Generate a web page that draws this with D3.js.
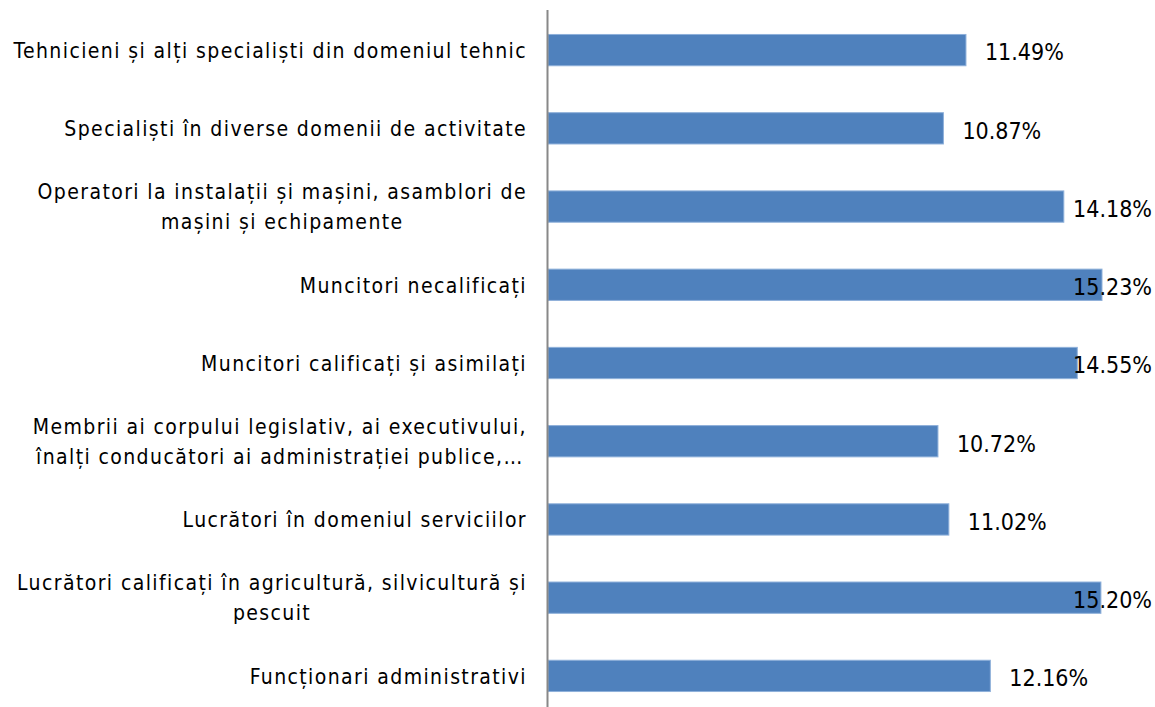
<!DOCTYPE html>
<html>
<head>
<meta charset="utf-8">
<script src="https://cdnjs.cloudflare.com/ajax/libs/d3/7.8.5/d3.min.js"></script>
<style>
  body { margin: 0; background: #fff; }
  .chart text { font-family: "DejaVu Sans Condensed", "DejaVu Sans", sans-serif; fill: #000; }
</style>
</head>
<body>
<svg class="chart"></svg>
<script>
var categories = [
  ["Tehnicieni și alți specialiști din domeniul tehnic"],
  ["Specialiști în diverse domenii de activitate"],
  ["Operatori la instalații și mașini, asamblori de", "mașini și echipamente"],
  ["Muncitori necalificați"],
  ["Muncitori calificați și asimilați"],
  ["Membrii ai corpului legislativ, ai executivului,", "înalți conducători ai administrației publice,…"],
  ["Lucrători în domeniul serviciilor"],
  ["Lucrători calificați în agricultură, silvicultură și", "pescuit"],
  ["Funcționari administrativi"]
];
var values = [11.49, 10.87, 14.18, 15.23, 14.55, 10.72, 11.02, 15.20, 12.16];

var width = 1155, height = 707,
    axisX = 548, rightEdge = 1152;

var svg = d3.select(".chart")
    .attr("width", width)
    .attr("height", height);

var x = d3.scaleLinear()
    .domain([0, 15.23])
    .range([axisX, 1102]);

var y = d3.scaleBand()
    .domain(d3.range(values.length))
    .range([11, 715])
    .paddingInner(0.6)
    .paddingOuter(0.3);

svg.selectAll(".bar")
    .data(values)
  .enter().append("rect")
    .attr("class", "bar")
    .attr("x", x(0))
    .attr("y", function(d, i) { return y(i); })
    .attr("width", function(d) { return x(d) - x(0); })
    .attr("height", y.bandwidth())
    .attr("fill", "#4f81bd")
    .attr("stroke", "#8eb0da")
    .attr("stroke-width", 1);

// category axis line
svg.append("line")
    .attr("x1", axisX - 0.5).attr("x2", axisX - 0.5)
    .attr("y1", 10).attr("y2", height)
    .attr("stroke", "#888")
    .attr("stroke-width", 2);

var fs = 21, lineH = 30;

var labels = svg.selectAll(".cat")
    .data(categories)
  .enter().append("text")
    .attr("class", "cat")
    .attr("text-anchor", "middle")
    .style("font-size", fs + "px")
    .style("letter-spacing", "1.4px");

labels.each(function(lines, i) {
  var t = d3.select(this);
  var cy = y(i) + y.bandwidth() / 2;
  var y0 = cy - (lines.length - 1) * lineH / 2;
  lines.forEach(function(s, k) {
    t.append("tspan")
      .attr("y", y0 + k * lineH)
      .attr("dy", "0.37em")
      .text(s);
  });
});

// right-align the block, centre lines within it (like Excel wrapped labels)
labels.each(function() {
  var t = d3.select(this);
  var w = d3.max(t.selectAll("tspan").nodes(), function(n) { return n.getComputedTextLength(); });
  t.selectAll("tspan").attr("x", 527 - w / 2);
});

svg.selectAll(".val")
    .data(values)
  .enter().append("text")
    .attr("class", "val")
    .style("font-size", "23px")
    .attr("y", function(d, i) { return y(i) + y.bandwidth() / 2; })
    .attr("dy", "0.45em")
    .text(function(d) { return d.toFixed(2) + "%"; })
    .attr("x", function(d) {
      var w = this.getComputedTextLength();
      return Math.min(x(d) + 19, rightEdge - w);
    });
</script>
</body>
</html>
